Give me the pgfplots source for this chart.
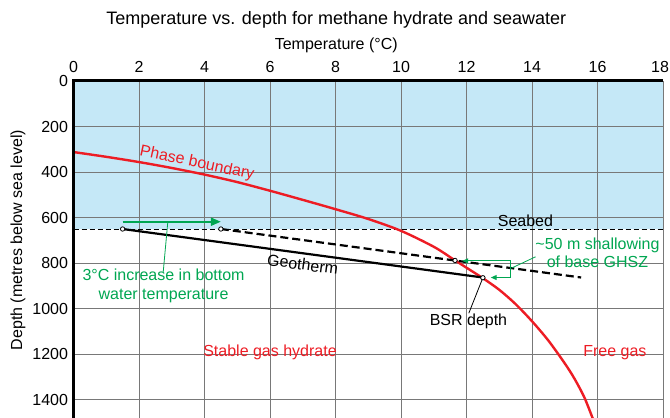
\documentclass[border=0pt]{standalone}
\usepackage{fontspec}
\setmainfont{Liberation Sans}
\usepackage{pgfplots}
\pgfplotsset{compat=1.18}
\usetikzlibrary{arrows.meta}
\definecolor{sea}{RGB}{197,232,247}
\definecolor{pbred}{RGB}{237,28,36}
\definecolor{grn}{RGB}{0,166,81}
\definecolor{gridgray}{RGB}{120,120,120}
\begin{document}
\begin{tikzpicture}[x=1pt,y=1pt]
\begin{axis}[
  name=ax, at={(73.5pt,0pt)}, anchor=south west,
  scale only axis, width=589.5pt, height=337pt,
  xmin=0, xmax=18, ymin=0, ymax=1480, y dir=reverse,
  set layers,
  axis line style={draw=none},
  xtick={0,2,...,16}, ytick={0,200,...,1400},
  extra x ticks={18},
  extra x tick style={xticklabel style={xshift=-3pt}},
  xticklabel pos=upper,
  major tick length=0pt,
  grid=major, major grid style={gridgray, line width=0.9pt},
  /pgf/number format/assume math mode=true,
  /pgf/number format/1000 sep={},
  ticklabel style={font=\fontsize{16}{19}\selectfont},
  xticklabel style={yshift=5pt},
  yticklabel style={xshift=-2pt},
  title={Temperature vs. depth for methane hydrate and seawater},
  title style={font=\fontsize{18}{21}\selectfont, at={(axis description cs:0.5,1)}, anchor=center, yshift=55pt, xshift=-32pt},
  xlabel={Temperature (°C)},
  xlabel style={font=\fontsize{16}{19}\selectfont, at={(axis description cs:0.5,1)}, anchor=center, yshift=36pt, xshift=-32pt},
  ylabel={Depth (metres below sea level)},
  ylabel style={font=\fontsize{16}{19}\selectfont, at={(axis description cs:-0.0941,0.528)}, anchor=center},
]
% seawater
\addplot[fill=sea, draw=none, on layer=axis background] coordinates {(0,0) (18,0) (18,650) (0,650)} -- cycle;
% seabed
\addplot[black, line width=0.9pt, dash pattern=on 5pt off 3pt] coordinates {(0,650) (18,650)};
% phase boundary
\addplot[pbred, line width=2.4pt, smooth] coordinates {
(0,312) (1,333) (2,356) (3,382) (4,411) (5,444) (6,482) (7,522) (8,563) (9,606) (10,658) (11,728) (11.6,783) (12,820) (12.5,866) (13,917) (13.5,980) (14,1055) (14.5,1140) (15,1240) (15.3,1308) (15.6,1390) (15.85,1480) (15.95,1515)};
% geotherm
\addplot[black, line width=2.2pt] coordinates {(1.5,650) (12.5,863)};
% warmed geotherm
\addplot[black, line width=2.2pt, dash pattern=on 8pt off 4pt] coordinates {(4.5,650) (15.5,863)};
% points
\addplot[only marks, mark=*, mark size=2.2pt, mark options={fill=white, draw=black, line width=0.8pt}] coordinates {(1.5,650) (4.5,650) (11.65,788) (12.5,864)};
% green arrow
\addplot[grn, line width=2pt, -{Triangle[length=10pt, width=8pt]}] coordinates {(1.5,618) (4.5,618)};
\addplot[grn, line width=0.8pt] coordinates {(2.88,618) (2.74,838)};
\node[grn, align=center, font=\fontsize{16}{18.5}\selectfont] at (axis cs:2.75,900) {3°C increase in bottom\\water temperature};
% bracket
\addplot[grn, line width=1.2pt, {Triangle[length=6pt, width=5pt]}-{Triangle[length=6pt, width=5pt]}] coordinates {(11.87,790) (13.35,790) (13.35,863) (12.74,863)};
\addplot[grn, line width=0.8pt] coordinates {(13.37,822) (14.11,772)};
\node[grn, align=center, font=\fontsize{16}{18.5}\selectfont] at (axis cs:16.0,755) {\textasciitilde 50 m shallowing\\of base GHSZ};
% labels
\node[font=\fontsize{16}{19}\selectfont] at (axis cs:13.8,615) {Seabed};
\node[font=\fontsize{16}{19}\selectfont, rotate=-7.6] at (axis cs:7.0,805) {Geotherm};
\node[pbred, font=\fontsize{16}{19}\selectfont, rotate=-12] at (axis cs:3.77,362) {Phase boundary};
\addplot[black, line width=0.8pt] coordinates {(12.5,864) (12.07,1020)};
\node[font=\fontsize{16}{19}\selectfont] at (axis cs:12.06,1055) {BSR depth};
\node[pbred, font=\fontsize{16}{19}\selectfont] at (axis cs:6.0,1190) {Stable gas hydrate};
\node[pbred, font=\fontsize{16}{19}\selectfont] at (axis cs:16.53,1191) {Free gas};
\end{axis}
\draw[line width=3pt, line join=miter] (ax.south west) -- (ax.north west) -- (ax.north east);
\pgfresetboundingbox
\useasboundingbox (0,0) rectangle (670,418);
\end{tikzpicture}
\end{document}
